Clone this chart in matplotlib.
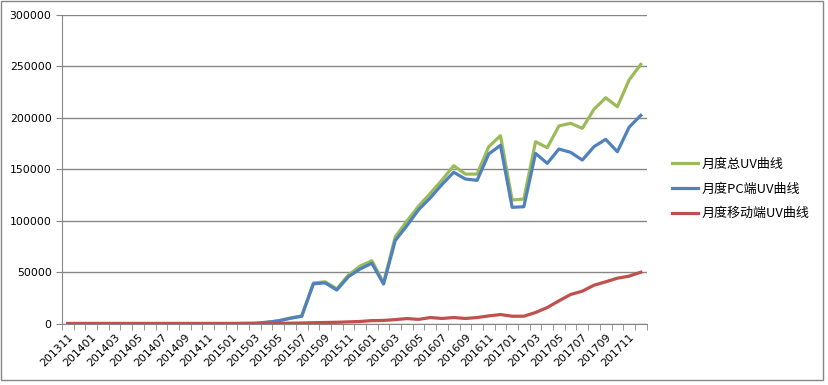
import numpy as np
import matplotlib.pyplot as plt
from matplotlib.patches import Rectangle

months = ['201311', '201312',
          '201401', '201402', '201403', '201404', '201405', '201406',
          '201407', '201408', '201409', '201410', '201411', '201412',
          '201501', '201502', '201503', '201504', '201505', '201506',
          '201507', '201508', '201509', '201510', '201511', '201512',
          '201601', '201602', '201603', '201604', '201605', '201606',
          '201607', '201608', '201609', '201610', '201611', '201612',
          '201701', '201702', '201703', '201704', '201705', '201706',
          '201707', '201708', '201709', '201710', '201711', '201712']

total_uv = [0, 0, 0, 0, 0, 0, 0, 0, 0, 0, 0, 0, 0, 0, 0, 100, 200,
            1200, 2700, 5300, 7500, 39300, 40500, 33700, 47100, 55800,
            61000, 39500, 84000, 99500, 114000, 126400, 139300, 153200,
            145100, 145100, 171700, 182400, 119900, 120900, 176500, 170700,
            191800, 194400, 189500, 208000, 219200, 210500, 236400, 251600]

pc_uv = [0, 0, 0, 0, 0, 0, 0, 0, 0, 0, 0, 0, 0, 0, 0, 100, 200,
         1200, 2500, 5000, 7000, 38500, 39500, 32500, 45500, 53000,
         58500, 38300, 80500, 95000, 110500, 122000, 135000, 146800,
         140300, 139000, 164600, 173000, 112800, 113400, 165200, 155500,
         169400, 166200, 158700, 171700, 178800, 166800, 190500, 202100]

mobile_uv = [0, 0, 0, 0, 0, 0, 0, 0, 0, 0, 0, 0, 0, 0, 0, 0, 0,
             0, 200, 300, 500, 800, 1000, 1200, 1600, 2000,
             2800, 3000, 3800, 4800, 4000, 5800, 4900, 5800,
             4900, 5800, 7400, 8700, 7100, 7100, 10700, 15500,
             22000, 28200, 31400, 37200, 40500, 44000, 46000, 49800]

series_names = ['月度总UV曲线', '月度PC端UV曲线', '月度移动端UV曲线']
colors = ['#9BBB59', '#4F81BD', '#C0504D']
grey = '#868686'

fig = plt.figure(figsize=(8.29, 3.85), dpi=100)
ax = fig.add_axes([0.0748, 0.1597, 0.7052, 0.8026])

x = np.arange(len(months))
for vals, name, c in zip([total_uv, pc_uv, mobile_uv], series_names, colors):
    ax.plot(x, vals, color=c, lw=2.3, label=name, solid_joinstyle='round')

ax.set_xlim(-0.5, len(months) - 0.5)
ax.set_ylim(0, 300000)
ax.set_yticks(np.arange(0, 300001, 50000))
ax.set_yticklabels([str(v) for v in range(0, 300001, 50000)], fontsize=7.8)
ax.yaxis.grid(True, color=grey, lw=1)
ax.set_axisbelow(True)

ax.set_xticks(x[::2])
ax.set_xticklabels(months[::2], rotation=45, ha='right', va='top',
                   rotation_mode='anchor', fontsize=7.8)
ax.tick_params(axis='x', which='major', length=0, pad=6)
ax.set_xticks(np.arange(-0.5, len(months), 1), minor=True)
ax.tick_params(axis='x', which='minor', length=4, color=grey)
ax.tick_params(axis='y', length=4, color=grey)

for s in ['top', 'right']:
    ax.spines[s].set_visible(False)
for s in ['left', 'bottom']:
    ax.spines[s].set_color(grey)

ax.legend(loc='center left', bbox_to_anchor=(0.8106, 0.509),
          bbox_transform=fig.transFigure, frameon=False, borderpad=0,
          borderaxespad=0, handlelength=2.0, handletextpad=0.3,
          labelspacing=0.9,
          prop={'family': ['Noto Sans CJK SC', 'DejaVu Sans'], 'size': 9.4})

fig.patches.append(Rectangle((1 / 829, 1 - 380 / 385), 822 / 829, 379 / 385,
                             transform=fig.transFigure, fill=False,
                             edgecolor=grey, lw=1))

fig.savefig('out.png', dpi=100)
